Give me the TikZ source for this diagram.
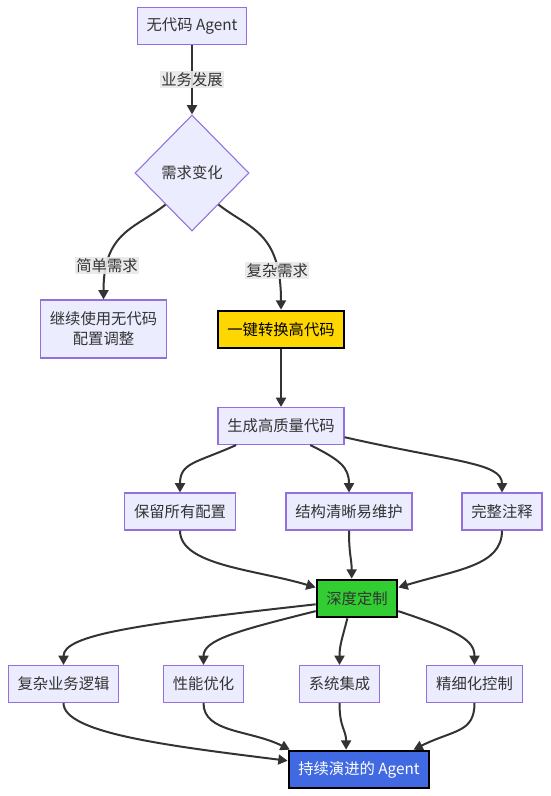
\documentclass[tikz,border=0pt]{standalone}
\usepackage{fontspec}
\setmainfont{Noto Sans CJK SC}
\usepackage{xcolor}
\usepackage{tikz}
\usetikzlibrary{arrows.meta,shapes.geometric}

\definecolor{boxfill}{HTML}{ECECFF}
\definecolor{boxline}{HTML}{9370DB}
\definecolor{edgegray}{HTML}{333333}
\definecolor{lblgray}{HTML}{E8E8E8}
\definecolor{hlyellow}{HTML}{FFD700}
\definecolor{hlgreen}{HTML}{32CD32}
\definecolor{hlblue}{HTML}{4169E1}

\begin{document}
\begin{tikzpicture}[
  x=0.75pt, y=-0.75pt,
  every node/.style={font=\fontsize{11.5pt}{15pt}\selectfont, text=edgegray},
  box/.style={draw=boxline, fill=boxfill, line width=0.8pt, rectangle,
    inner xsep=7pt, inner ysep=0pt, minimum height=27.75pt, align=center},
  decision/.style={draw=boxline, fill=boxfill, line width=0.8pt, diamond,
    aspect=1, inner sep=0pt, minimum width=85.5pt, minimum height=87pt},
  hot/.style={box, draw=black, line width=2pt},
  elabel/.style={fill=lblgray, fill opacity=0.9, text opacity=1, inner sep=1pt},
  arr/.style={-{Triangle[length=7pt, width=7.5pt]}, draw=edgegray, line width=1.5pt}
]
  \useasboundingbox (0,0) rectangle (550,796);

  % nodes
  \node[box] (nocode) at (192,26) {无代码 Agent};
  \node[decision] (need) at (192,173) {需求变化};
  \node[box, minimum height=43.5pt] (keep) at (103.5,329) {继续使用无代码\\配置调整};
  \node[hot, fill=hlyellow, text=black] (convert) at (281,329.5) {一键转换高代码};
  \node[box] (gen) at (281,426) {生成高质量代码};
  \node[box] (conf) at (180,511.5) {保留所有配置};
  \node[box] (clean) at (349,511.5) {结构清晰易维护};
  \node[box] (notes) at (502,511.5) {完整注释};
  \node[hot, fill=hlgreen] (custom) at (357,598.5) {深度定制};
  \node[box] (logic) at (63.5,684) {复杂业务逻辑};
  \node[box] (perf) at (203.5,684) {性能优化};
  \node[box] (integ) at (339.5,684) {系统集成};
  \node[box] (ctrl) at (474.5,684) {精细化控制};
  \node[hot, fill=hlblue, text=white] (evolve) at (359,769.5) {持续演进的 Agent};

  % edges
  \draw[arr] (nocode) -- node[elabel] {业务发展} (need);
  \draw[arr] (need.230) .. controls +(-30,24) and +(0,-68) .. node[elabel, pos=0.8] {简单需求} (keep.north);
  \draw[arr] (need.-50) .. controls +(30,24) and +(0,-79) .. node[elabel, pos=0.8] {复杂需求} (convert.north);
  \draw[arr] (convert) -- (gen);

  \draw[arr] (gen.203) .. controls +(-40,18) and +(0,-30) .. (conf.north);
  \draw[arr] (gen.-33) .. controls +(30,15) and +(0,-25) .. (clean.north);
  \draw[arr] (gen.-10) .. controls +(110,25) and +(0,-30) .. (notes.north);

  \draw[arr] (conf.south) .. controls +(0,35) and +(-60,-18) .. (custom.165);
  \draw[arr] (clean.south) .. controls +(0,25) and +(0,-20) .. (custom.105);
  \draw[arr] (notes.south) .. controls +(0,35) and +(60,-18) .. (custom.15);

  \draw[arr] (custom.188) .. controls +(-180,20) and +(0,-30) .. (logic.north);
  \draw[arr] (custom.197) .. controls +(-80,20) and +(0,-25) .. (perf.north);
  \draw[arr] (custom.244) .. controls +(-5,20) and +(0,-20) .. (integ.north);
  \draw[arr] (custom.-17) .. controls +(60,20) and +(0,-25) .. (ctrl.north);

  \draw[arr] (logic.south) .. controls +(0,30) and +(-120,-15) .. (evolve.173);
  \draw[arr] (perf.south) .. controls +(0,30) and +(-40,-20) .. (evolve.164);
  \draw[arr] (integ.south) .. controls +(0,25) and +(0,-20) .. (evolve.123);
  \draw[arr] (ctrl.south) .. controls +(0,30) and +(40,-20) .. (evolve.20);
\end{tikzpicture}
\end{document}
